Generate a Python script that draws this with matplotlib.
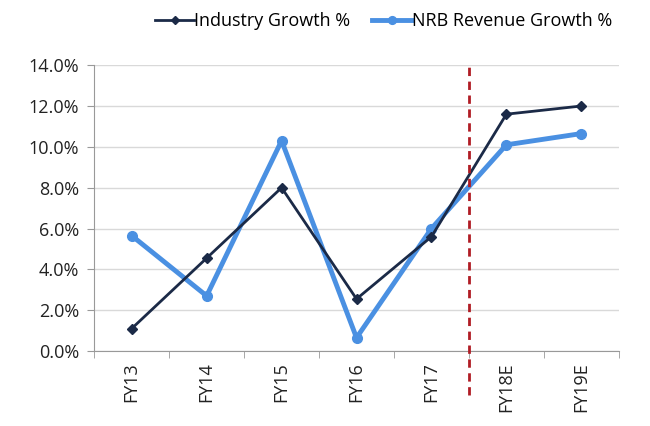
import matplotlib.pyplot as plt
from matplotlib.ticker import FuncFormatter

plt.rcParams['font.family'] = ['Open Sans', 'DejaVu Sans']

years = ['FY13', 'FY14', 'FY15', 'FY16', 'FY17', 'FY18E', 'FY19E']
industry = [1.1, 4.55, 8.0, 2.55, 5.6, 11.6, 12.0]
nrb = [5.65, 2.7, 10.3, 0.65, 6.0, 10.1, 10.65]

fig = plt.figure(figsize=(6.5, 4.26), dpi=100)
ax = fig.add_axes([0.145, 0.176, 0.807, 0.671])

x = range(len(years))
ax.plot(x, industry, color='#1b2a47', lw=2, marker='D', ms=5,
        label='Industry Growth %', zorder=3)
ax.plot(x, nrb, color='#4a90e2', lw=3.5, marker='o', ms=7,
        label='NRB Revenue Growth %', zorder=2)

# estimate separator
ax.axvline(4.5, ymin=-0.155, ymax=1, color='#b01c24', lw=2,
           ls=(0, (3, 2)), clip_on=False, zorder=4)

ax.set_xlim(-0.5, len(years) - 0.5)
ax.set_ylim(0, 14)
ax.set_yticks(range(0, 15, 2))
ax.yaxis.set_major_formatter(FuncFormatter(lambda v, p: f'{v:.1f}%'))
ax.set_xticks(x)
ax.set_xticklabels(years, rotation=90)
ax.set_xticks([i - 0.5 for i in range(len(years) + 1)], minor=True)
ax.tick_params(axis='x', which='major', length=0, pad=8)
ax.tick_params(axis='x', which='minor', length=5, color='#999999')
ax.tick_params(axis='y', length=5, color='#999999', direction='out', pad=6)
ax.tick_params(labelsize=13, labelcolor='#222222')

ax.grid(axis='y', color='#d9d9d9', lw=1)
ax.set_axisbelow(True)
for s in ['top', 'right']:
    ax.spines[s].set_visible(False)
for s in ['left', 'bottom']:
    ax.spines[s].set_color('#999999')

fig.legend(loc='upper center', bbox_to_anchor=(0.59, 1.01), ncol=2,
           frameon=False, fontsize=13, handlelength=2.2, columnspacing=1.2,
           handletextpad=0.0, markerscale=0.8)

fig.savefig('out.png', dpi=100)
